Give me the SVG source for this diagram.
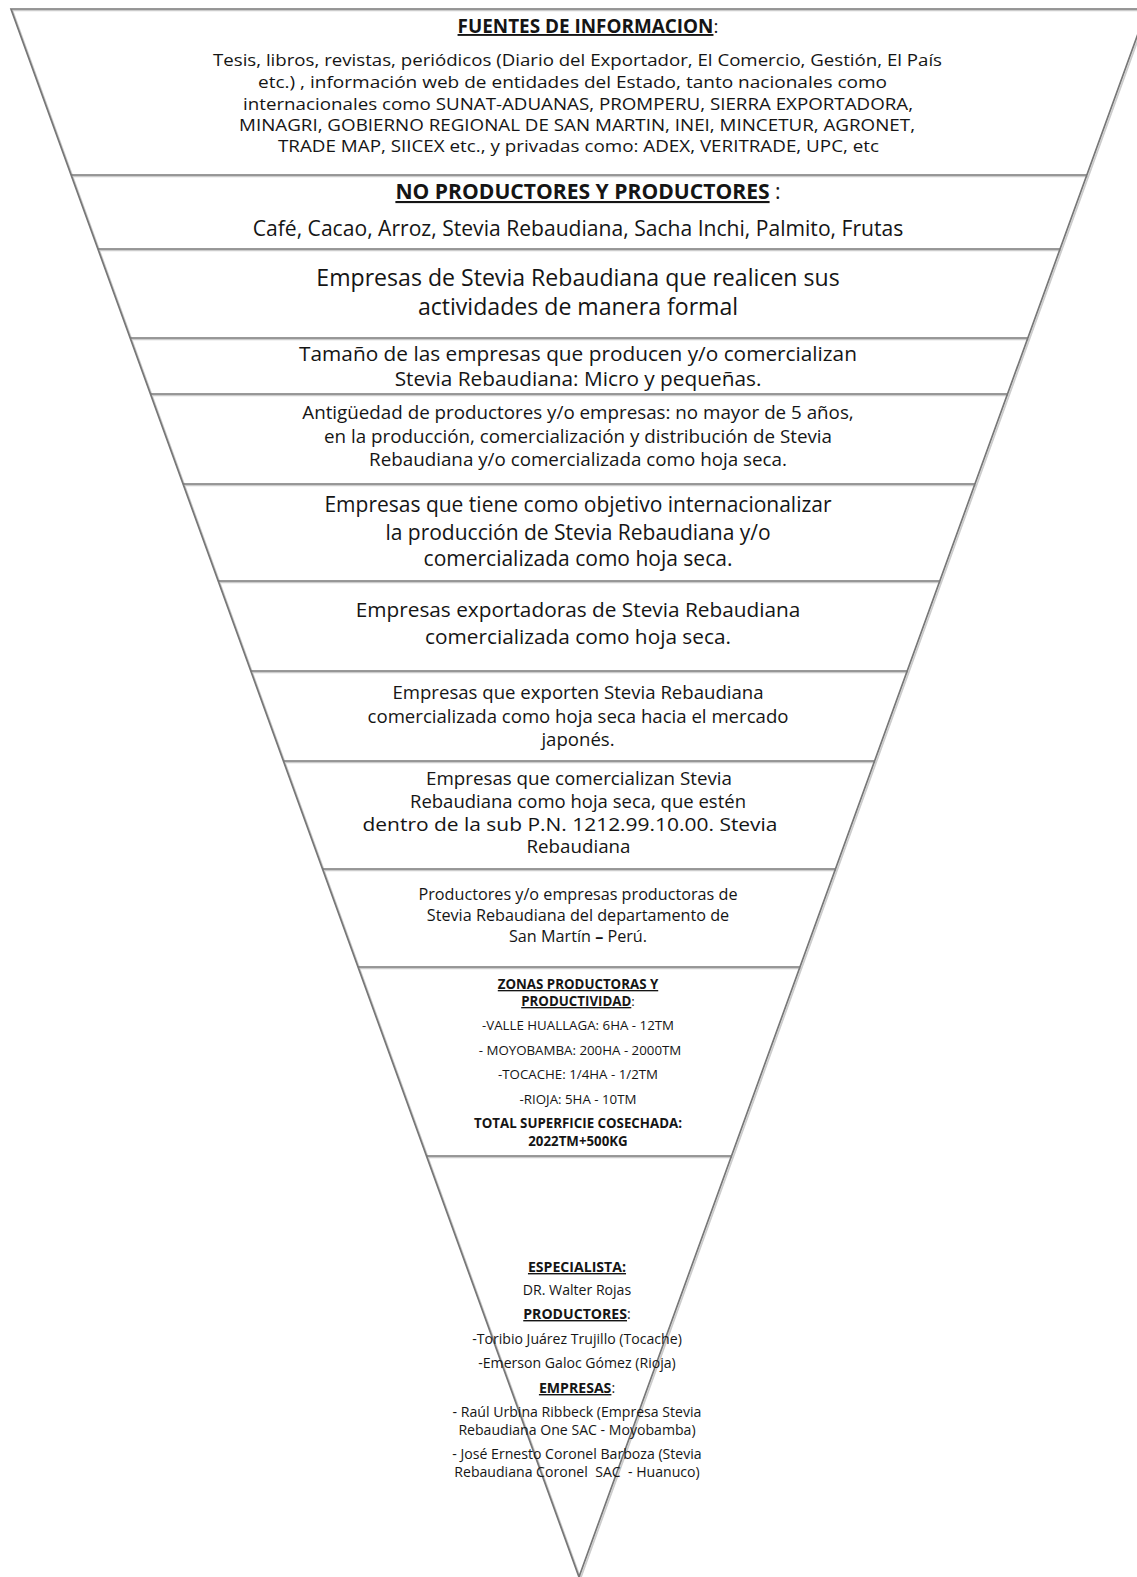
<svg xmlns="http://www.w3.org/2000/svg" xmlns:xlink="http://www.w3.org/1999/xlink" width="1137" height="1577" viewBox="0 0 1137 1577">
<style>
  text { font-family: "Open Sans", "Liberation Sans", sans-serif; fill: #151515; text-anchor: middle; }
  .b { font-weight: bold; }
  .u { text-decoration: underline; }
  .ln { stroke: #777777; stroke-width: 1.7; fill: none; }
  .sh { stroke: #cccccc; stroke-width: 1.7; fill: none; }
  .s1 { font-size: 18.9px; }
  .s1b { font-size: 17px; }
  .s2 { font-size: 21.1px; }
  .s3 { font-size: 23.1px; }
  .s4 { font-size: 20.8px; }
  .s5 { font-size: 18.8px; }
  .s6 { font-size: 21px; }
  .s7 { font-size: 20.8px; }
  .s8 { font-size: 18.6px; }
  .s9 { font-size: 18.2px; }
  .s10 { font-size: 16.2px; }
  .s11 { font-size: 13.3px; }
  .s12 { font-size: 14.1px; }
</style>
<defs>
  <g id="frame">
    <polygon points="11,9 1147,9 579,1577"/>
    <line x1="71.1" y1="175" x2="1086.9" y2="175"/>
    <line x1="97.9" y1="249" x2="1060.1" y2="249"/>
    <line x1="130.2" y1="338" x2="1027.8" y2="338"/>
    <line x1="150.4" y1="394" x2="1007.6" y2="394"/>
    <line x1="183" y1="484" x2="975" y2="484"/>
    <line x1="218.2" y1="581" x2="939.8" y2="581"/>
    <line x1="250.8" y1="671" x2="907.2" y2="671"/>
    <line x1="283.4" y1="761" x2="874.6" y2="761"/>
    <line x1="322.5" y1="869" x2="835.5" y2="869"/>
    <line x1="358" y1="967" x2="800" y2="967"/>
    <line x1="426.4" y1="1156" x2="731.6" y2="1156"/>
  </g>
</defs>
<rect x="0" y="0" width="1137" height="1577" fill="#ffffff"/>
<g id="funnel">
  <use xlink:href="#frame" href="#frame" class="sh" transform="translate(1.5,1.5)"/>
  <use xlink:href="#frame" href="#frame" class="ln"/>
</g>
<g id="connectors"></g>
<g id="fuentes">
  <text class="s1" x="588" y="33"><tspan class="b u">FUENTES DE INFORMACION</tspan>:</text>
  <text class="s1b" x="577.5" y="66" textLength="729" lengthAdjust="spacingAndGlyphs">Tesis, libros, revistas, periódicos (Diario del Exportador, El Comercio, Gestión, El País</text>
  <text class="s1b" x="572.5" y="88" textLength="629" lengthAdjust="spacingAndGlyphs">etc.) , información web de entidades del Estado, tanto nacionales como</text>
  <text class="s1b" x="578" y="109.5" textLength="670" lengthAdjust="spacingAndGlyphs">internacionales como SUNAT-ADUANAS, PROMPERU, SIERRA EXPORTADORA,</text>
  <text class="s1b" x="577" y="131" textLength="676" lengthAdjust="spacingAndGlyphs">MINAGRI, GOBIERNO REGIONAL DE SAN MARTIN, INEI, MINCETUR, AGRONET,</text>
  <text class="s1b" x="578.5" y="152" textLength="601" lengthAdjust="spacingAndGlyphs">TRADE MAP, SIICEX etc., y privadas como: ADEX, VERITRADE, UPC, etc</text>
</g>
<g id="productores" class="s2">
  <text x="588" y="199"><tspan class="b u">NO PRODUCTORES Y PRODUCTORES</tspan> :</text>
  <text x="578" y="236">Café, Cacao, Arroz, Stevia Rebaudiana, Sacha Inchi, Palmito, Frutas</text>
</g>
<g id="formales" class="s3">
  <text x="578" y="286">Empresas de Stevia Rebaudiana que realicen sus</text>
  <text x="578" y="315">actividades de manera formal</text>
</g>
<g id="tamano" class="s4">
  <text x="578" y="361">Tamaño de las empresas que producen y/o comercializan</text>
  <text x="578" y="386">Stevia Rebaudiana: Micro y pequeñas.</text>
</g>
<g id="antiguedad" class="s5">
  <text x="578" y="418.5">Antigüedad de productores y/o empresas: no mayor de 5 años,</text>
  <text x="578" y="442.5">en la producción, comercialización y distribución de Stevia</text>
  <text x="578" y="466">Rebaudiana y/o comercializada como hoja seca.</text>
</g>
<g id="internacionalizar" class="s6">
  <text x="578" y="512">Empresas que tiene como objetivo internacionalizar</text>
  <text x="578" y="539.5">la producción de Stevia Rebaudiana y/o</text>
  <text x="578" y="565.5">comercializada como hoja seca.</text>
</g>
<g id="exportadoras" class="s7">
  <text x="578" y="616.5">Empresas exportadoras de Stevia Rebaudiana</text>
  <text x="578" y="643.5">comercializada como hoja seca.</text>
</g>
<g id="japon" class="s8">
  <text x="578" y="698.5">Empresas que exporten Stevia Rebaudiana</text>
  <text x="578" y="723">comercializada como hoja seca hacia el mercado</text>
  <text x="578" y="746">japonés.</text>
</g>
<g id="partida" class="s9">
  <text x="579" y="785" textLength="306" lengthAdjust="spacingAndGlyphs">Empresas que comercializan Stevia</text>
  <text x="578" y="807.8" textLength="336" lengthAdjust="spacingAndGlyphs">Rebaudiana como hoja seca, que estén</text>
  <text x="570" y="830.6" textLength="415" lengthAdjust="spacingAndGlyphs">dentro de la sub P.N. 1212.99.10.00. Stevia</text>
  <text x="578.5" y="853.4" textLength="104" lengthAdjust="spacingAndGlyphs">Rebaudiana</text>
</g>
<g id="sanmartin" class="s10">
  <text x="578" y="899.5">Productores y/o empresas productoras de</text>
  <text x="578" y="920.5">Stevia Rebaudiana del departamento de</text>
  <text x="578" y="941.5">San Martín <tspan class="b">–</tspan> Perú.</text>
</g>
<g id="zonas" class="s11">
  <text x="578" y="989"><tspan class="b u">ZONAS PRODUCTORAS Y</tspan></text>
  <text x="578" y="1006"><tspan class="b u">PRODUCTIVIDAD</tspan>:</text>
  <text x="578" y="1030">-VALLE HUALLAGA: 6HA - 12TM</text>
  <text x="580" y="1055">- MOYOBAMBA: 200HA - 2000TM</text>
  <text x="578" y="1079">-TOCACHE: 1/4HA - 1/2TM</text>
  <text x="578" y="1104">-RIOJA: 5HA - 10TM</text>
  <text x="578" y="1128" class="b">TOTAL SUPERFICIE COSECHADA:</text>
  <text x="578" y="1146" class="b">2022TM+500KG</text>
</g>
<g id="especialista" class="s12">
  <text x="577" y="1272"><tspan class="b u">ESPECIALISTA:</tspan></text>
  <text x="577" y="1295">DR. Walter Rojas</text>
  <text x="577" y="1319"><tspan class="b u">PRODUCTORES</tspan>:</text>
  <text x="577" y="1344">-Toribio Juárez Trujillo (Tocache)</text>
  <text x="577" y="1368">-Emerson Galoc Gómez (Rioja)</text>
  <text x="577" y="1393"><tspan class="b u">EMPRESAS</tspan>:</text>
  <text x="577" y="1417">- Raúl Urbina Ribbeck (Empresa Stevia</text>
  <text x="577" y="1435">Rebaudiana One SAC - Moyobamba)</text>
  <text x="577" y="1459">- José Ernesto Coronel Barboza (Stevia</text>
  <text x="577" y="1477" xml:space="preserve">Rebaudiana Coronel  SAC  - Huanuco)</text>
</g>
</svg>
